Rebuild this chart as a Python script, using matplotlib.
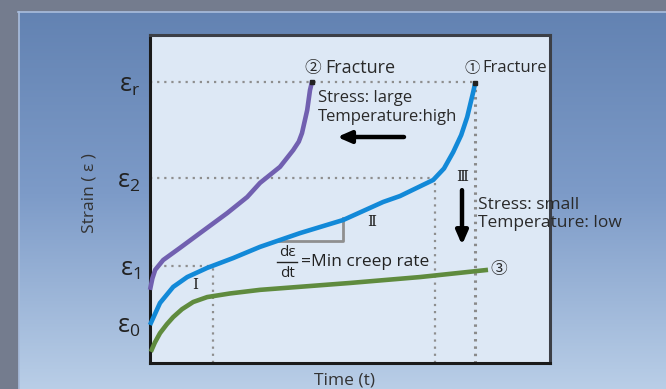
import numpy as np
import matplotlib.pyplot as plt
from matplotlib.patches import Rectangle
from matplotlib.colors import LinearSegmentedColormap

plt.rcParams['font.family'] = ['Open Sans', 'Noto Sans CJK JP', 'DejaVu Sans']
plt.rcParams['mathtext.fontset'] = 'custom'
plt.rcParams['mathtext.rm'] = 'Open Sans'

# creep curves, time vs strain (arbitrary units)
t_small = [0.0, 0.25, 0.58, 0.93, 1.43, 2.08, 2.75, 3.75, 4.83, 5.83, 6.25, 7.08, 7.35, 7.58, 7.78, 7.93, 8.08, 8.13]
eps_small = [1.16, 1.83, 2.32, 2.62, 2.90, 3.20, 3.54, 3.96, 4.36, 4.91, 5.09, 5.58, 5.93, 6.43, 6.95, 7.50, 8.26, 8.54]

t_large = [0.0, 0.06, 0.13, 0.33, 0.75, 1.25, 1.93, 2.43, 2.75, 3.25, 3.58, 3.72, 3.80, 3.93, 4.00, 4.05]
eps_large = [2.23, 2.58, 2.84, 3.14, 3.51, 3.96, 4.57, 5.06, 5.49, 5.98, 6.49, 6.75, 7.01, 7.71, 8.32, 8.57]

t_low = [0.02, 0.12, 0.25, 0.42, 0.58, 0.80, 1.08, 1.43, 2.0, 2.75, 5.0, 6.75, 8.45]
eps_low = [0.34, 0.62, 0.91, 1.18, 1.40, 1.64, 1.86, 2.01, 2.12, 2.23, 2.44, 2.62, 2.84]

# strain levels on the y axis
eps_levels = [1.22, 2.96, 5.64, 8.57]
eps_names = [r'$\mathregular{ε_0}$', r'$\mathregular{ε_1}$', r'$\mathregular{ε_2}$', r'$\mathregular{ε_r}$']

# stage boundaries: end of primary, start of tertiary, rupture
t_primary = 1.58
t_tertiary = 7.13
t_rupture = 8.13

W, H = 666, 389
fig = plt.figure(figsize=(W / 100, H / 100), dpi=100)

# slide background
bg = fig.add_axes([0, 0, 1, 1], zorder=-5)
bg.set_axis_off()
cmap = LinearSegmentedColormap.from_list('bg', ['#6181b1', '#7d9bc8', '#b9cee7'])
grad = np.linspace(0, 1, 256).reshape(-1, 1)
bg.imshow(grad, aspect='auto', cmap=cmap, extent=[0, 1, 0, 1], origin='upper')
bg.set_xlim(0, 1)
bg.set_ylim(0, 1)
bg.add_patch(Rectangle((0, 1 - 11 / H), 1, 11 / H, color='#747c8e'))
bg.add_patch(Rectangle((0, 0), 18 / W, 1, color='#747c8e'))
bg.plot([18 / W, 1], [1 - 12 / H] * 2, color='#a9bede', lw=1.2)
bg.plot([19 / W] * 2, [0, 1 - 12 / H], color='#a9bede', lw=1.2)

ax = fig.add_axes([150 / W, 26 / H, 400 / W, 328 / H])
ax.set_facecolor('#dde8f5')
ax.set_xlim(0, 10)
ax.set_ylim(0, 10)
for side in ['left', 'bottom']:
    ax.spines[side].set_color('#1a1a1a')
    ax.spines[side].set_linewidth(2.2)
for side in ['top', 'right']:
    ax.spines[side].set_color('#3c3f46')
    ax.spines[side].set_linewidth(2.2)

dot = dict(color='#8e8e8e', lw=1.6, ls=(0, (1, 2.2)), zorder=1)
ax.plot([0, t_primary], [eps_levels[1]] * 2, **dot)
ax.plot([t_primary] * 2, [0, eps_levels[1]], **dot)
ax.plot([0, t_tertiary], [eps_levels[2]] * 2, **dot)
ax.plot([t_tertiary] * 2, [0, eps_levels[2]], **dot)
ax.plot([0, t_rupture], [eps_levels[3]] * 2, **dot)
ax.plot([t_rupture] * 2, [0, eps_levels[3]], color='#8a8a8a', lw=2.2, ls=(0, (0.8, 1.6)), zorder=1)

# slope triangle for the minimum creep rate
ax.plot([3.13, 4.83, 4.83], [3.72, 3.72, 4.42], color='#8f8f8f', lw=2, zorder=2)

ax.plot(t_large, eps_large, color='#7160b0', lw=3.3, solid_capstyle='butt', zorder=3, clip_on=False)
ax.plot(t_small, eps_small, color='#1289d8', lw=3.3, solid_capstyle='butt', zorder=4, clip_on=False)
ax.plot(t_low, eps_low, color='#5f8b3e', lw=3.3, solid_capstyle='butt', zorder=3, clip_on=False)

ax.plot([t_large[-1]], [eps_large[-1]], marker='s', ms=3, color='#222', zorder=5)
ax.plot([t_small[-1]], [eps_small[-1]], marker='s', ms=3, color='#222', zorder=5)

ax.set_xticks([])
ax.set_yticks(eps_levels)
ax.set_yticklabels(eps_names, fontsize=18, color='#222')
ax.tick_params(axis='y', length=0, pad=7)

ax.set_xlabel('Time (t)', fontsize=12.5, color='#333')
ax.xaxis.set_label_coords(0.485, -0.028, transform=ax.transAxes)
ax.set_ylabel('Strain ( ε )', fontsize=12.5, color='#333')
ax.yaxis.set_label_coords(-0.13, 0.518, transform=ax.transAxes)

txt = dict(color='#2a2a2a', clip_on=False)
cjk = ['Noto Sans CJK JP', 'DejaVu Sans']
serif = ['DejaVu Serif', 'Noto Sans CJK JP']
ax.text(3.85, 8.99, '②', ha='left', va='center', fontsize=12, family=cjk, **txt)
ax.text(4.38, 8.99, 'Fracture', ha='left', va='center', fontsize=13, **txt)
ax.text(7.85, 8.99, '①', ha='left', va='center', fontsize=11, family=cjk, **txt)
ax.text(8.3, 8.99, 'Fracture', ha='left', va='center', fontsize=12, **txt)
ax.text(4.2, 8.08, 'Stress: large', ha='left', va='center', fontsize=12, **txt)
ax.text(4.2, 7.5, 'Temperature:high', ha='left', va='center', fontsize=12, **txt)
ax.text(8.2, 4.82, 'Stress: small', ha='left', va='center', fontsize=12.5, **txt)
ax.text(8.2, 4.27, 'Temperature: low', ha='left', va='center', fontsize=12.5, **txt)
ax.text(8.5, 2.84, '③', ha='left', va='center', fontsize=12, family=cjk, **txt)

ax.text(1.13, 2.38, 'Ⅰ', ha='center', va='center', fontsize=11, family=serif, color='#222')
ax.text(5.55, 4.30, 'Ⅱ', ha='center', va='center', fontsize=11, family=serif, color='#222')
ax.text(7.8, 5.67, 'Ⅲ', ha='center', va='center', fontsize=11, family=serif, color='#222')

# d(eps)/dt = min creep rate
ax.text(3.43, 3.38, 'dε', ha='center', va='center', fontsize=11, color='#222')
ax.text(3.43, 2.74, 'dt', ha='center', va='center', fontsize=11, color='#222')
ax.plot([3.18, 3.68], [3.07, 3.07], color='#222', lw=1)
ax.text(3.78, 3.07, '=Min creep rate', ha='left', va='center', fontsize=12.5, color='#222')

arrow = dict(arrowstyle='-|>,head_length=0.8,head_width=0.35', color='black', lw=3.2,
             shrinkA=0, shrinkB=0)
ax.annotate('', xy=(4.68, 6.89), xytext=(6.35, 6.89), arrowprops=arrow)
ax.annotate('', xy=(7.8, 3.60), xytext=(7.8, 5.27), arrowprops=arrow)

fig.savefig('out.png', dpi=100)
